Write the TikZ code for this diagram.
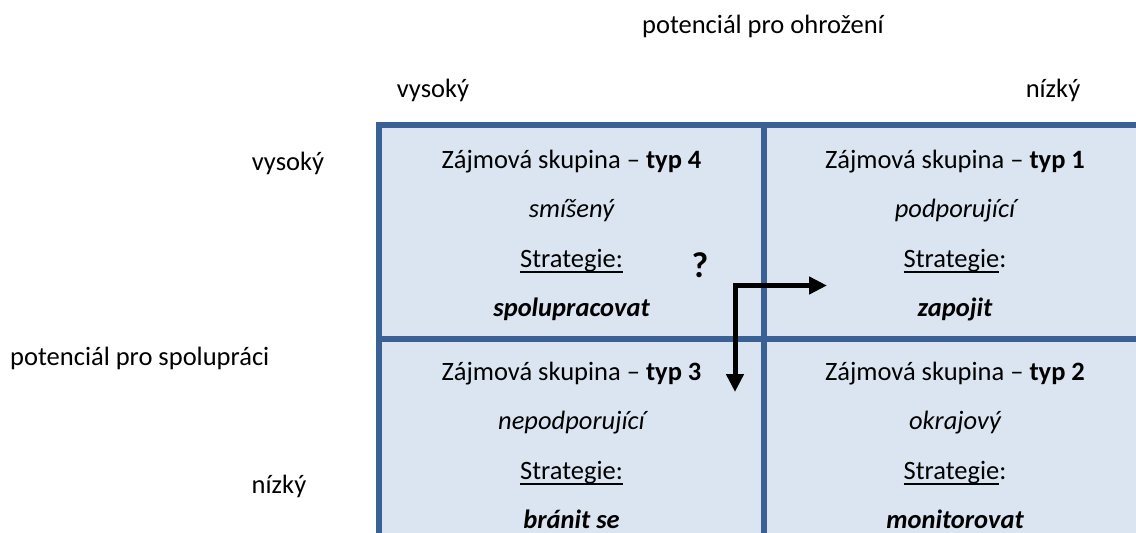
\documentclass[tikz,border=0pt]{standalone}
\usepackage{fontspec}
\setmainfont{Carlito}
\usetikzlibrary{arrows.meta}
\definecolor{gridblue}{HTML}{3A6195}
\definecolor{cellfill}{HTML}{DBE5F1}
% underline drawn as a rule just below the baseline
\newcommand\strat[1]{\setbox0\hbox{#1}\rlap{\rule[-5.5pt]{\wd0}{2pt}}\box0}
\begin{document}
\begin{tikzpicture}[x=1pt,y=-1pt,
  txt/.style={inner sep=0pt, anchor=base, font=\fontsize{26.5}{32}\selectfont},
  gridline/.style={draw=gridblue, line width=6pt, line join=miter},
  flow/.style={line width=5pt, line join=miter,
    {Triangle[length=18pt,width=17pt]}-{Triangle[length=18pt,width=17pt]}}
]
\useasboundingbox (0,0) rectangle (1136,533);
\clip (0,0) rectangle (1136,533);

% table of the four groups
\fill[cellfill] (379,125) rectangle (1143,600);
\draw[gridline] (379,600) -- (379,125) -- (1143,125) -- (1143,600);
\draw[gridline] (764,125) -- (764,600);
\draw[gridline] (379,338.5) -- (1143,338.5);

% axis labels
\node[txt] (title) at (763,33) {potenciál pro ohrožení};
\node[txt] (colHigh) at (433,97) {vysoký};
\node[txt] (colLow) at (1053,97) {nízký};
\node[txt] (rowHigh) at (288,170) {vysoký};
\node[txt, anchor=base west] (rowAxis) at (10,365) {potenciál pro spolupráci};
\node[txt] (rowLow) at (279,493) {nízký};

% type 4
\node[txt] (t4a) at (571.5,168) {Zájmová skupina – \textbf{typ 4}};
\node[txt] (t4b) at (571.5,217.5) {\itshape smíšený};
\node[txt] (t4c) at (571.5,267) {\strat{Strategie:}};
\node[txt] (t4d) at (571.5,316.5) {\bfseries\itshape spolupracovat};
% type 1
\node[txt] (t1a) at (955,168) {Zájmová skupina – \textbf{typ 1}};
\node[txt] (t1b) at (955,217.5) {\itshape podporující};
\node[txt] (t1c) at (955,267) {\strat{Strategie}:};
\node[txt] (t1d) at (955,316.5) {\bfseries\itshape zapojit};
% type 3
\node[txt] (t3a) at (571.5,380) {Zájmová skupina – \textbf{typ 3}};
\node[txt] (t3b) at (571.5,429.5) {\itshape nepodporující};
\node[txt] (t3c) at (571.5,479) {\strat{Strategie:}};
\node[txt] (t3d) at (571.5,528.5) {\bfseries\itshape bránit se};
% type 2
\node[txt] (t2a) at (955,380) {Zájmová skupina – \textbf{typ 2}};
\node[txt] (t2b) at (955,429.5) {\itshape okrajový};
\node[txt] (t2c) at (955,479) {\strat{Strategie}:};
\node[txt] (t2d) at (955,528.5) {\bfseries\itshape monitorovat};

% question and the two possible moves
\node[txt, font=\bfseries\fontsize{36}{40}\selectfont] (ask) at (700,277) {?};
\coordinate (bend) at (735,285.5);
\coordinate (downEnd) at (735,392);
\coordinate (rightEnd) at (827,285.5);
\draw[flow] (downEnd) -- (bend) -- (rightEnd);
\end{tikzpicture}
\end{document}
